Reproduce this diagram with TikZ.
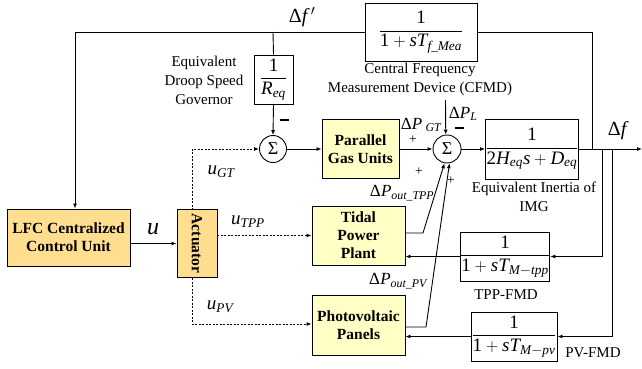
\documentclass[tikz,border=0pt]{standalone}
\usepackage{mathspec}
\setmainfont{Liberation Serif}
\setmathsfont(Digits,Latin)[Uppercase=Italic,Lowercase=Italic]{Liberation Serif}
\setmathsfont(Greek)[Uppercase=Regular,Lowercase=Italic]{Liberation Serif}
\setmathrm{Liberation Serif}
\usetikzlibrary{arrows.meta}
\definecolor{lightyel}{HTML}{FFFFC6}
\definecolor{orgyel}{HTML}{FFDF8F}
\begin{document}
\begin{tikzpicture}[x=1pt,y=-1pt, line width=0.9pt, >={Latex[length=5pt,width=4pt]},
  every node/.style={font=\fontsize{15}{19}\selectfont},
  blk/.style={draw, rectangle, inner sep=0pt, align=center},
  yel/.style={blk, fill=lightyel, font=\fontsize{15.5}{18}\selectfont\bfseries},
  org/.style={blk, fill=orgyel, font=\fontsize{15.5}{18}\selectfont\bfseries},
  tf/.style={blk, font=\fontsize{19}{22}\selectfont},
  sumn/.style={draw, circle, minimum size=27pt, inner sep=0pt, font=\fontsize{18}{20}\selectfont},
  lbl/.style={align=center, inner sep=0pt},
  sig/.style={inner sep=0pt},
  dots/.style={dash pattern=on 2pt off 1.5pt}]
\useasboundingbox (0,0) rectangle (642,369);
% blocks
\node[org, minimum width=123pt, minimum height=57pt] (lfc) at (68.5,237.5) {LFC Centralized\\Control Unit};
\node[org, minimum width=40pt, minimum height=68pt] (act) at (197,243.5) {\rotatebox{-90}{Actuator}};
\node[yel, minimum width=77pt, minimum height=59pt] (pgu) at (360.5,149) {Parallel\\Gas Units};
\node[yel, minimum width=93pt, minimum height=59pt] (tpp) at (358.5,235.5) {Tidal\\Power\\Plant};
\node[yel, minimum width=93pt, minimum height=60pt] (pv) at (358.5,325) {Photovoltaic\\Panels};
\node[tf, minimum width=39pt, minimum height=49pt] (req) at (273.5,79.5) {$\displaystyle\frac{1}{R_{eq}}$};
\node[tf, minimum width=112pt, minimum height=58pt] (cfmd) at (421,32) {$\displaystyle\frac{1}{1+sT_{f\_Mea}}$};
\node[tf, minimum width=92pt, minimum height=60pt] (inert) at (532,149) {$\displaystyle\frac{1}{2H_{eq}s+D_{eq}}$};
\node[tf, minimum width=86pt, minimum height=49pt] (tfmd) at (505,256.5) {$\displaystyle\frac{1}{1+sT_{M-tpp}}$};
\node[tf, minimum width=86pt, minimum height=49pt] (pfmd) at (514,336.5) {$\displaystyle\frac{1}{1+sT_{M-pv}}$};
\node[sumn] (s1) at (273,149) {$\Sigma$};
\node[sumn, minimum size=28pt] (s2) at (447,149) {$\Sigma$};
% coordinates
\coordinate (tl) at (75,32);
\coordinate (tr) at (592,32);
\coordinate (tj) at (273,32);
\coordinate (j0) at (592,149);
\coordinate (j1) at (602,149);
\coordinate (j2) at (612,149);
\coordinate (out) at (642,149);
\coordinate (dpl) at (445.5,100);
\coordinate (a1) at (192,149);
\coordinate (atop) at (192,210);
\coordinate (abot) at (192,278);
\coordinate (a2) at (192,324);
\coordinate (t1) at (423,233);
\coordinate (p1) at (426,327);
% connectors
\draw (j0) -- (tr) -- (cfmd.east);
\draw[->] (cfmd.west) -- (tl) -- (tl |- lfc.north);
\draw (tj) -- (req.north);
\draw[->] (req.south) -- (s1.north);
\draw[->] (s1.east) -- (pgu.west);
\draw[->] (pgu.east) -- (s2.west);
\draw[->] (dpl) -- (s2.95);
\draw[->] (s2.east) -- (inert.west);
\draw[->] (inert.east) -- (out);
\draw[->] (j1) -- (j1 |- tfmd.east) -- (tfmd.east);
\draw[->] (j2) -- (j2 |- pfmd.east) -- (pfmd.east);
\draw[->] (tfmd.west) -- (tfmd.west -| tpp.east);
\draw[->] (pfmd.west) -- (pfmd.west -| pv.east);
\draw[->] (tpp.east |- t1) -- (t1) -- (s2.-100);
\draw[->] (pv.east |- p1) -- (p1) -- (s2.-80);
\draw[->] (act.west -| lfc.east) -- (act.west);
\draw[->,dots] (tpp.west -| act.east) -- (tpp.west);
\draw[->,dots] (atop) -- (a1) -- (s1.west);
\draw[->,dots] (abot) -- (a2) -- (a2 -| pv.west);
% labels
\node[font=\fontsize{20}{22}\selectfont] at (302,17) {$\Delta f\,'$};
\node[lbl] at (204,80) {Equivalent\\Droop Speed\\Governor};
\node[sig] at (284,120) {\rule{9pt}{1.8pt}};
\node[lbl] at (420,79) {Central Frequency\\Measurement Device (CFMD)};
\node[font=\fontsize{17}{19}\selectfont] at (421,125) {$\Delta P_{\;GT}$};
\node[font=\fontsize{13.5}{15}\selectfont] at (413,140) {+};
\node[font=\fontsize{17}{19}\selectfont] at (463,114) {$\Delta P_L$};
\node[sig] at (459,128) {\rule{9pt}{1.8pt}};
\node[font=\fontsize{20}{22}\selectfont] at (617,131) {$\Delta f$};
\node[lbl] at (534,197) {Equivalent Inertia of\\IMG};
\node[font=\fontsize{13.5}{15}\selectfont] at (419,172) {+};
\node[font=\fontsize{13.5}{15}\selectfont] at (451,181) {+};
\node[font=\fontsize{17}{19}\selectfont] at (402,193) {$\Delta P_{out\_TPP}$};
\node[font=\fontsize{17}{19}\selectfont] at (398,281) {$\Delta P_{out\_PV}$};
\node at (506,295) {TPP-FMD};
\node at (593,353) {PV-FMD};
\node[font=\fontsize{24}{26}\selectfont] at (153,229) {$u$};
\node[font=\fontsize{19}{21}\selectfont] at (221,172) {$u_{GT}$};
\node[font=\fontsize{19}{21}\selectfont] at (248,222) {$u_{TPP}$};
\node[font=\fontsize{19}{21}\selectfont] at (220,307) {$u_{PV}$};
\end{tikzpicture}
\end{document}
